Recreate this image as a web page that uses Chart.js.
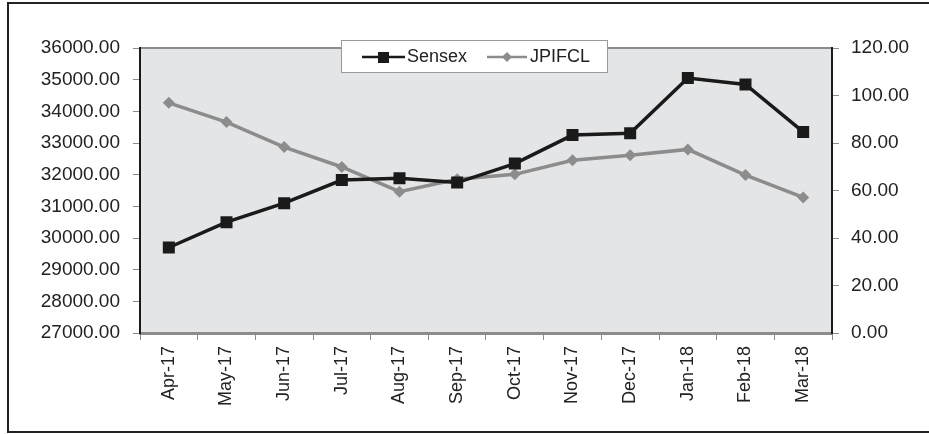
<!DOCTYPE html>
<html>
<head>
<meta charset="utf-8">
<script src="https://cdn.jsdelivr.net/npm/chart.js@4.4.0/dist/chart.umd.min.js"></script>
<style>
  html, body { margin: 0; padding: 0; background: #fff; overflow: hidden; }
  #wrap { position: relative; width: 929px; height: 434px; }
  #frame {
    position: absolute; left: 7px; top: 2px; width: 960px; height: 427px;
    border-left: 2px solid #222; border-top: 2px solid #222; border-bottom: 2px solid #222;
  }
  canvas { position: absolute; left: 0; top: 0; }
</style>
</head>
<body>
<div id="wrap">
  <div id="frame"></div>
  <canvas id="indexChart" width="929" height="434"></canvas>
</div>
<script>
const months = ["Apr-17", "May-17", "Jun-17", "Jul-17", "Aug-17", "Sep-17",
  "Oct-17", "Nov-17", "Dec-17", "Jan-18", "Feb-18", "Mar-18"];
const sensex = [29700, 30500, 31100, 31830, 31890, 31750,
  32350, 33250, 33310, 35050, 34850, 33350];
const jpifcl = [96.9, 88.8, 78.3, 69.9, 59.5, 64.7,
  66.8, 72.7, 74.8, 77.3, 66.5, 57.1];
const leftTicks = [27000, 36000, 1000];   // min, max, step
const rightTicks = [0, 120, 20];

const FONT = '"Liberation Sans", Arial, sans-serif';
const TEXT = "#222";

// grey plot background + legend box sitting on top of the plot
const plotDecor = {
  id: "plotDecor",
  beforeDraw(chart) {
    const { ctx, chartArea: a } = chart;
    ctx.save();
    ctx.fillStyle = "#e4e5e7";
    ctx.fillRect(a.left, a.top, a.right - a.left, a.bottom - a.top);
    ctx.strokeStyle = "#8c8c8c";
    ctx.lineWidth = 2;
    ctx.beginPath();
    ctx.moveTo(a.left, a.top);
    ctx.lineTo(a.right, a.top);
    ctx.stroke();
    ctx.restore();
  },
  afterDraw(chart) {
    const ctx = chart.ctx;
    ctx.save();
    ctx.fillStyle = "#fff";
    ctx.fillRect(341, 40, 267, 33);
    ctx.strokeStyle = "#9a9a9a";
    ctx.lineWidth = 1;
    ctx.strokeRect(341.5, 40.5, 266, 32);

    const cy = 57;
    // Sensex entry
    ctx.strokeStyle = "#1a1a1a";
    ctx.lineWidth = 2.5;
    ctx.beginPath();
    ctx.moveTo(362, cy);
    ctx.lineTo(405, cy);
    ctx.stroke();
    ctx.fillStyle = "#1a1a1a";
    ctx.fillRect(378, cy - 5, 11, 11);
    // JPIFCL entry
    ctx.strokeStyle = "#8c8c8c";
    ctx.lineWidth = 2.5;
    ctx.beginPath();
    ctx.moveTo(487, cy);
    ctx.lineTo(527, cy);
    ctx.stroke();
    ctx.fillStyle = "#8c8c8c";
    ctx.beginPath();
    ctx.moveTo(507, cy - 5);
    ctx.lineTo(512, cy);
    ctx.lineTo(507, cy + 5);
    ctx.lineTo(502, cy);
    ctx.closePath();
    ctx.fill();

    ctx.fillStyle = TEXT;
    ctx.font = "18px " + FONT;
    ctx.textBaseline = "middle";
    ctx.fillText(chart.data.datasets[0].label, 407, cy);
    ctx.fillText(chart.data.datasets[1].label, 530, cy);
    ctx.restore();
  },
};

new Chart(document.getElementById("indexChart"), {
  type: "line",
  data: {
    labels: months,
    datasets: [
      {
        label: "Sensex",
        data: sensex,
        yAxisID: "y",
        borderColor: "#1a1a1a",
        backgroundColor: "#1a1a1a",
        borderWidth: 3.5,
        pointStyle: "rect",
        pointRadius: 8.5,
        pointBorderWidth: 0,
        tension: 0,
      },
      {
        label: "JPIFCL",
        data: jpifcl,
        yAxisID: "y1",
        borderColor: "#8c8c8c",
        backgroundColor: "#8c8c8c",
        borderWidth: 3.5,
        pointStyle: "rectRot",
        pointRadius: 6,
        pointBorderWidth: 0,
        tension: 0,
      },
    ],
  },
  options: {
    responsive: false,
    animation: false,
    devicePixelRatio: 1,
    layout: { padding: { top: 48, left: 0, right: 0, bottom: 0 } },
    plugins: { legend: { display: false }, tooltip: { enabled: false } },
    scales: {
      x: {
        offset: true,
        grid: {
          offset: true,
          drawOnChartArea: false,
          color: "#8c8c8c",
          tickLength: 7,
        },
        border: { color: "#8c8c8c", width: 3 },
        ticks: {
          minRotation: 90,
          maxRotation: 90,
          padding: 6,
          color: TEXT,
          font: { family: FONT, size: 18 },
        },
        afterFit(scale) { scale.height = 101; },
      },
      y: {
        position: "left",
        min: leftTicks[0],
        max: leftTicks[1],
        grid: { drawOnChartArea: false, color: "#8c8c8c", tickLength: 7 },
        border: { color: "#1a1a1a", width: 2 },
        ticks: {
          stepSize: leftTicks[2],
          padding: 13,
          color: TEXT,
          font: { family: FONT, size: 19 },
          callback: (v) => Number(v).toFixed(2),
        },
        afterFit(scale) { scale.width = 140; },
      },
      y1: {
        position: "right",
        min: rightTicks[0],
        max: rightTicks[1],
        grid: { drawOnChartArea: false, color: "#8c8c8c", tickLength: 7 },
        border: { color: "#1a1a1a", width: 2 },
        ticks: {
          stepSize: rightTicks[2],
          padding: 12,
          color: TEXT,
          font: { family: FONT, size: 19 },
          callback: (v) => Number(v).toFixed(2),
        },
        afterFit(scale) { scale.width = 97; },
      },
    },
  },
  plugins: [plotDecor],
});
</script>
</body>
</html>
